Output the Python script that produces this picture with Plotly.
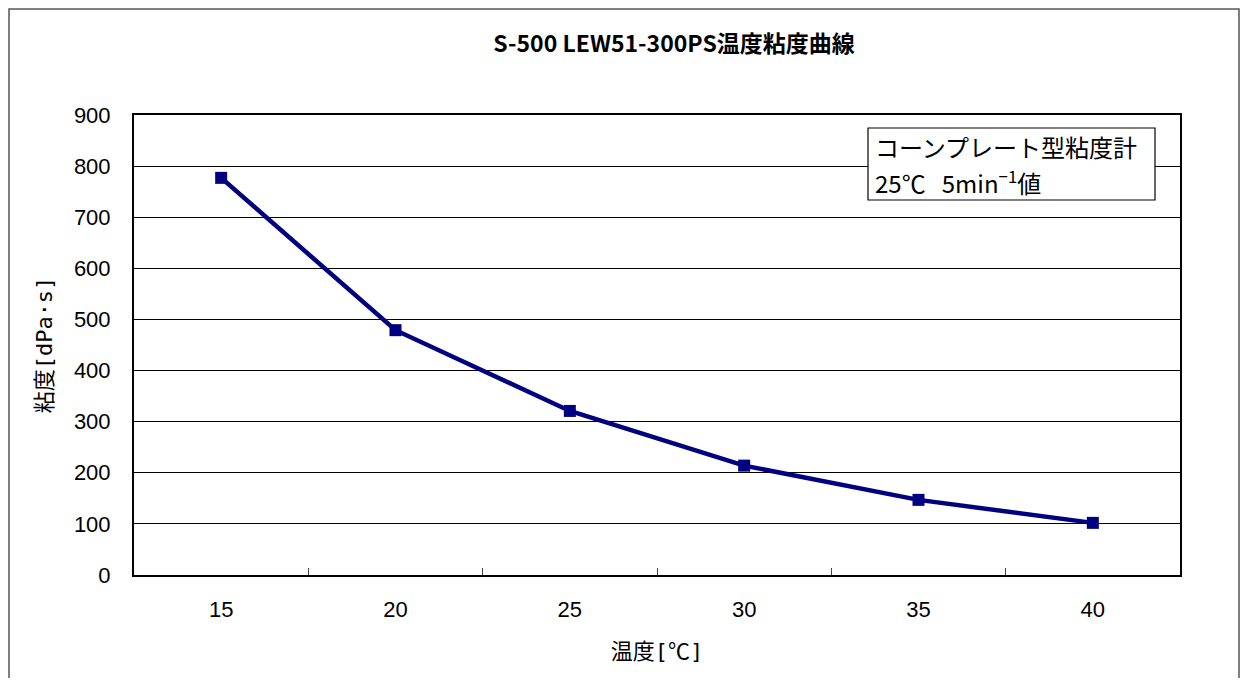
import plotly.graph_objects as go

temps = ["15", "20", "25", "30", "35", "40"]
viscosity = [777, 479, 321, 214, 147, 102]
y_ticks = [0, 100, 200, 300, 400, 500, 600, 700, 800, 900]

# page body has an 8px margin; figure coordinates = screen coordinates - 8
OFF = 8
W, H = 1232, 670
L, R, T, B = 134 - OFF, 1180 - OFF, 115 - OFF, 575 - OFF

def px(x):
    return (x - OFF - L) / (R - L)

def py(y):
    return (B - (y - OFF)) / (B - T)

fig = go.Figure()
fig.add_trace(go.Scatter(
    x=temps, y=viscosity, mode="lines+markers",
    line=dict(color="#000080", width=4.5),
    marker=dict(symbol="square", size=12, color="#000080"),
    showlegend=False,
))

font_num = "Liberation Sans, Arial, sans-serif"
font_jp = "Noto Sans CJK JP, sans-serif"
font_axis = "DejaVu Sans Mono, Noto Sans CJK JP, sans-serif"

fig.update_layout(
    width=W, height=H,
    margin=dict(l=L, r=W - R, t=T, b=H - B),
    paper_bgcolor="white", plot_bgcolor="white",
    title=dict(text="<b>S-500 LEW51-300PS温度粘度曲線</b>",
               x=px(674), xref="paper", xanchor="center",
               y=1 - (44 - OFF) / H, yref="container", yanchor="middle",
               font=dict(family=font_jp, size=23, color="black")),
    xaxis=dict(
        type="category", range=[-0.5, 5.5], tickson="boundaries",
        ticks="inside", ticklen=7, tickcolor="#444", tickwidth=1,
        showgrid=False, showline=True, linecolor="black", linewidth=2, mirror=True,
        tickfont=dict(family=font_num, size=22, color="black"),
        ticklabelstandoff=14,
        title=dict(text="温度[℃]", font=dict(family=font_axis, size=22, color="black"), standoff=22),
    ),
    yaxis=dict(
        range=[0, 900], tickvals=y_ticks, ticks="",
        showgrid=True, gridcolor="black", gridwidth=1,
        showline=True, linecolor="black", linewidth=2, mirror=True,
        zeroline=False,
        tickfont=dict(family=font_num, size=22, color="black"),
        ticklabelstandoff=17,
        title=dict(text="粘度[dPa·s]", font=dict(family=font_axis, size=22, color="black"), standoff=15),
    ),
)

# legend-like note box
fig.add_shape(type="rect", xref="paper", yref="paper",
              x0=px(868), x1=px(1155), y0=py(200), y1=py(128),
              line=dict(color="black", width=1.2), fillcolor="white", layer="above")
note_lines = ["コーンプレート型粘度計", "25℃&nbsp;&nbsp;&nbsp;5min<sup>−1</sup>値"]
note_y = [146, 182]
for txt, yy in zip(note_lines, note_y):
    fig.add_annotation(
        xref="paper", yref="paper", x=px(873), y=py(yy),
        xanchor="left", yanchor="middle", align="left", showarrow=False,
        text=txt, font=dict(family=font_jp, size=24, color="black"),
    )

fig.add_shape(type="rect", xref="paper", yref="paper",
              x0=px(9), x1=px(1239), y0=py(700), y1=py(9),
              line=dict(color="#555", width=1.5), layer="below")

fig.write_html("out.html")
